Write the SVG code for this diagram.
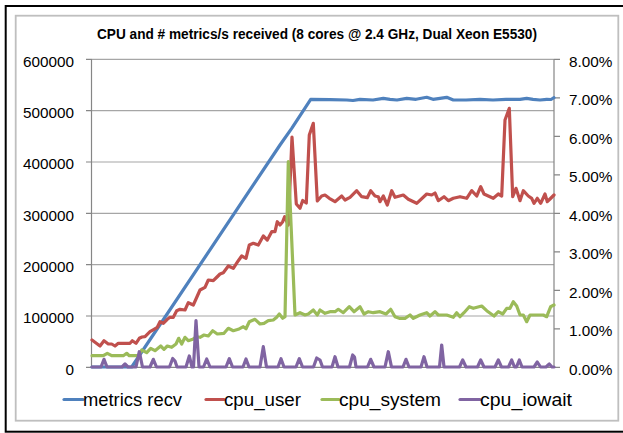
<svg xmlns="http://www.w3.org/2000/svg" width="623" height="433" viewBox="0 0 623 433">
<style>
text{font-family:"Liberation Sans",Arial,sans-serif;fill:#000}
.ax{font-size:15.3px}
.axl{text-anchor:end}
.grid{stroke:#A6A6A6;stroke-width:1.2;fill:none}
.axis{stroke:#868686;stroke-width:1.2;fill:none}
.s{fill:none;stroke-width:3.2;stroke-linejoin:round;stroke-linecap:round}
.blue{stroke:#4F81BD}.red{stroke:#C0504D}.green{stroke:#9BBB59}.purple{stroke:#8064A2}
.lg{font-size:17.5px}
</style>
<rect x="0" y="0" width="623" height="433" fill="#fff"/>
<g id="frame">
<rect x="5.7" y="6" width="630" height="425.7" fill="#fff" stroke="#000" stroke-width="2"/>
<rect x="15.7" y="15.7" width="602.6" height="405" fill="#fff" stroke="#BFBFBF" stroke-width="1.8"/>
</g>
<g id="title">
<text x="317" y="39" font-size="14" font-weight="bold" text-anchor="middle" textLength="440" lengthAdjust="spacingAndGlyphs">CPU and # metrics/s received (8 cores @ 2.4 GHz, Dual Xeon E5530)</text>
</g>
<g id="grid">
<path class="grid" d="M92 59.3H554M92 110.7H554M92 162H554M92 213.3H554M92 264.7H554M92 316H554"/>
</g>
<g id="axes">
<path class="axis" d="M91.5 59.3V367.3M86 59.3H92M86 110.7H92M86 162H92M86 213.3H92M86 264.7H92M86 316H92M86 367.3H92"/>
<path class="axis" d="M554 59.3V367.3M554 59.3H560M554 97.8H560M554 136.3H560M554 174.8H560M554 213.3H560M554 251.8H560M554 290.3H560M554 328.8H560M554 367.3H560"/>
<path class="axis" d="M92 367.3H554"/>
<g class="ax axl">
<text x="74" y="66.5">600000</text>
<text x="74" y="117.9">500000</text>
<text x="74" y="169.2">400000</text>
<text x="74" y="220.5">300000</text>
<text x="74" y="271.9">200000</text>
<text x="74" y="323.2">100000</text>
<text x="74" y="374.5">0</text>
</g>
<g class="ax">
<text x="569" y="66.5">8.00%</text>
<text x="569" y="105">7.00%</text>
<text x="569" y="143.5">6.00%</text>
<text x="569" y="182">5.00%</text>
<text x="569" y="220.5">4.00%</text>
<text x="569" y="259">3.00%</text>
<text x="569" y="297.5">2.00%</text>
<text x="569" y="336">1.00%</text>
<text x="569" y="374.5">0.00%</text>
</g>
</g>
<g id="series">
<polyline id="metrics_recv" class="s blue" points="92,367 131.7,367 280,145 291.7,128.3 310.7,99.3 330,99.7 346.7,100 353,100.5 360,99.3 373,100 383.3,98.3 390,99.3 397,100 406.7,98.3 416,99.3 426.7,97.3 433,99.3 440,98.3 446.7,97.3 453.3,100 466,100 480,99.3 493,100 506,99.3 520,99.3 526.7,98.3 533,99.3 540,100 546.7,99.3 551,99.5 554,97.7"/>
<polyline id="cpu_user" class="s red" points="92,340 96,343 100,346 104,340.7 108.3,344 111.7,344 115,346 118.3,343.3 124,343.3 130,343.3 132.3,340.7 136,343.3 139.3,338.3 142,337 145,336.7 150,331.7 154,329.3 157.3,327.3 160,321.7 163.3,323.3 167.3,319.3 170,317.3 173.3,317.3 176.7,310.7 180,309.3 185,310 188.3,302.7 193.3,305 196,299 200,290 205,287.3 208.3,280 213.3,280.7 217,277 220,274 223.3,272.7 228.3,266 233.3,268.3 238.3,260.7 241.7,256 246,258.3 249.3,245 253.3,243.3 258.3,245 263.3,236 267.3,240 271.7,231.7 275,231.7 277.3,221.7 280,225 282.7,221.7 284.7,216.7 288.3,225 292,137 296.3,204 300,208.3 302.7,200.5 306.3,203 309.3,135 313.3,123.3 317.3,201 321.7,196 325,195 329.3,198.3 335,201.7 341.7,196 345,200 350,197.3 356.7,190.7 361.7,196.7 367.3,197.7 370.7,190.7 375,196 378.3,196.7 380,201.7 383.3,196 387.3,205 391.7,190.7 395,197.3 403.3,195 408.3,199.3 416.7,203.3 426.7,194 431.7,195 435,193 438.3,200.7 444,196.7 448.3,200.7 453.3,198.3 460,196.7 466.7,198.3 471.7,190.7 476.7,196 480.7,186.7 484,194 488.3,196 493.3,198.3 498.3,194 501.7,196 505,120 509.3,108.3 512.7,196.7 516,188.3 520,200.7 523.3,190.7 528.3,196 531.7,198.3 534,203.3 537.3,198.3 540.7,203.3 545,194 547.3,201.7 550,199 554,195"/>
<polyline id="cpu_system" class="s green" points="92,355.7 103.3,355.7 107.3,353.3 111.7,355.7 123.3,355.7 126.7,353.3 129.3,355.7 138.3,355.7 141.7,350 146.7,352.7 150.7,348.3 155,350.7 160.7,346 164,349.3 167.3,346 171.7,347.3 176,344 178.7,338.3 181.7,344 185,337.3 188.3,340.7 192.7,339.3 196.7,336.7 200,337.3 204,335 208.3,336 212.7,330.7 217.3,334 224,333.3 228.3,328.3 233.3,330.7 238.3,329.3 243.3,326.7 246,328.7 249.3,321.7 255,319.3 260,324 264,323.3 268.3,320.7 273.3,320 276.7,317.3 279.3,314 282.7,318.3 285,316.7 288.3,161.7 295,315 300,312.7 305,315 308.3,314 313.3,310 317.3,315 320,310 325,313.3 330,311.7 335,311.7 338.3,309.3 343.3,312.7 349.3,306.7 354,311.7 360,306.7 364,314 368.3,311.7 373.3,312.7 380,311.7 386,314 390.7,309.3 395,316.7 399.3,318.3 405,318.3 410,315 413.3,318.3 420,315 426.7,312.7 430,316 435,311.7 438.3,315 446.7,315 453.3,317.3 456.7,312.7 460,316.7 464,312.7 469.3,306.7 473.3,308.3 481.7,306 486.7,310.7 494,316 498.3,311.7 502.7,314 506.7,308.3 510,308.3 513.3,301.7 516.7,306 520,315 523.3,315 526.7,321.7 530,315 536.7,315 543.3,315 546.7,316.7 550.7,306.7 554,305"/>
<polyline id="cpu_iowait" class="s purple" points="92,367 101,367 104,359.3 107,367 122,367 125,364 128,367 136,367 139.3,351.7 142.5,367 150,367 153.3,359.3 156.5,367 169.5,367 172.7,358.5 175,361 177,367 186,367 189.3,356 192,367 193.5,367 196,320.7 199,367 203.5,367 206.7,359 210,367 226,367 229.3,358.7 232.5,367 243,367 246,359 249,367 260,367 263.3,346.7 266.5,367 278,367 281,358.7 284,367 296,367 299.3,358.7 302.5,367 313.5,367 316.7,358 320,360 322.5,367 332,367 335,356.7 338,367 349.5,367 352.7,355 354.5,357 356,367 367.5,367 370.7,359.3 374,367 385,367 388.3,351.7 391.5,367 403,367 406,359.3 409,367 421,367 424,356.7 427,367 439.5,367 441.7,345 444,367 459.5,367 462.7,360 466,367 477.5,367 480.7,360 484,367 495,367 498.3,360 501.5,367 508.5,367 511.7,360 514.5,367 516.5,367 519.3,360 522,367 534,367 537.3,362 540.5,367 546,367 549.3,364 552,367 554,367"/>
</g>
<g id="legend">
<path class="s blue" stroke-linecap="butt" d="M64 399.5H83"/>
<text class="lg" x="83" y="406" textLength="99" lengthAdjust="spacingAndGlyphs">metrics recv</text>
<path class="s red" stroke-linecap="butt" d="M206 399.5H224"/>
<text class="lg" x="224" y="406" textLength="77" lengthAdjust="spacingAndGlyphs">cpu_user</text>
<path class="s green" stroke-linecap="butt" d="M322 399.5H339"/>
<text class="lg" x="339" y="406" textLength="102" lengthAdjust="spacingAndGlyphs">cpu_system</text>
<path class="s purple" stroke-linecap="butt" d="M460 399.5H480"/>
<text class="lg" x="480" y="406" textLength="92" lengthAdjust="spacingAndGlyphs">cpu_iowait</text>
</g>
</svg>
